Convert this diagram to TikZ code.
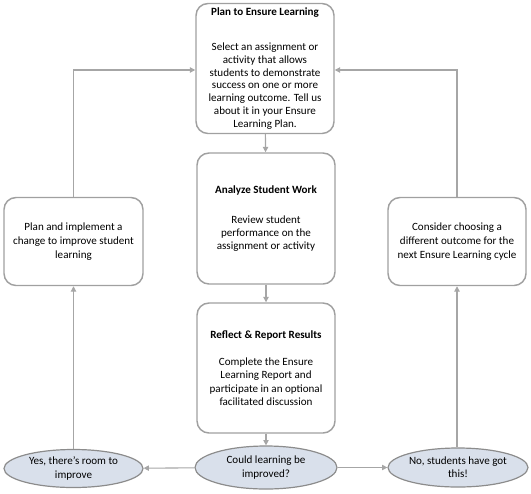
\documentclass[tikz,border=0pt]{standalone}
\usepackage{fontspec}
\setmainfont{Carlito}
\usetikzlibrary{arrows.meta,shapes.geometric}
\definecolor{linec}{HTML}{A6A6A6}
\definecolor{boxc}{HTML}{A0A0A0}
\definecolor{ellf}{HTML}{D9E0EB}
\definecolor{elld}{HTML}{8C8C8C}
\begin{document}
\begin{tikzpicture}[x=0.75pt,y=-0.75pt,
  every node/.style={font=\fontsize{8.3pt}{10pt}\selectfont, align=center, inner sep=0pt},
  tight/.style={font=\fontsize{8.3pt}{9.6pt}\selectfont},
  loose/.style={font=\fontsize{8.3pt}{10.5pt}\selectfont},
  stepbox/.style={draw=boxc, line width=1.1pt, rounded corners=9pt, fill=white},
  decision/.style={ellipse, draw=elld, line width=0.9pt, fill=ellf, minimum width=105pt, minimum height=29pt},
  conn/.style={draw=linec, line width=0.8pt, -{Triangle[length=4pt,width=4pt]}},
  plain/.style={draw=linec, line width=0.8pt}]
\useasboundingbox (0,0) rectangle (531,493);
\node[stepbox, tight, minimum width=138*0.75pt, minimum height=130*0.75pt] (plan) at (265,68.5)
 {\textbf{Plan to Ensure Learning}\\[16.6pt] Select an assignment or\\activity that allows\\students to demonstrate\\success on one or more\\learning outcome. Tell us\\about it in your Ensure\\Learning Plan.};
\node[stepbox, tight, minimum width=138*0.75pt, minimum height=131*0.75pt] (analyze) at (266,218.5)
 {\textbf{Analyze Student Work}\\[12.9pt] Review student\\performance on the\\assignment or activity};
\node[stepbox, minimum width=138*0.75pt, minimum height=130*0.75pt] (reflect) at (266,368)
 {\textbf{Reflect \& Report Results}\\[10.5pt] Complete the Ensure\\Learning Report and\\participate in an optional\\facilitated discussion};
\node[stepbox, loose, minimum width=139*0.75pt, minimum height=88*0.75pt] (change) at (73.5,241.5)
 {Plan and implement a\\change to improve student\\learning};
\node[stepbox, loose, minimum width=138*0.75pt, minimum height=88*0.75pt] (consider) at (457,241.5)
 {Consider choosing a\\different outcome for the\\next Ensure Learning cycle};
\node[decision, minimum width=142*0.75pt, minimum height=43*0.75pt] (could) at (266,467.5)
 {Could learning be\\improved?};
\node[decision, loose, minimum width=139*0.75pt, minimum height=38*0.75pt] (yes) at (73.5,468.5)
 {Yes, there's room to\\improve};
\node[decision, minimum width=140*0.75pt, minimum height=39*0.75pt] (no) at (458,467.5)
 {No, students have got\\this!};
\coordinate (tl) at (73.5,70);
\coordinate (tr) at (457,70);
\draw[conn] (plan) -- (analyze);
\draw[conn] (analyze) -- (reflect);
\draw[conn] (reflect) -- (could);
\draw[conn] (could) -- (yes);
\draw[conn] (could) -- (no);
\draw[conn] (yes) -- (change);
\draw[conn] (no.north -| consider) -- (consider);
\draw[conn] (change) -- (tl) -- (plan.west |- tl);
\draw[conn] (consider) -- (tr) -- (plan.east |- tr);
\end{tikzpicture}
\end{document}
